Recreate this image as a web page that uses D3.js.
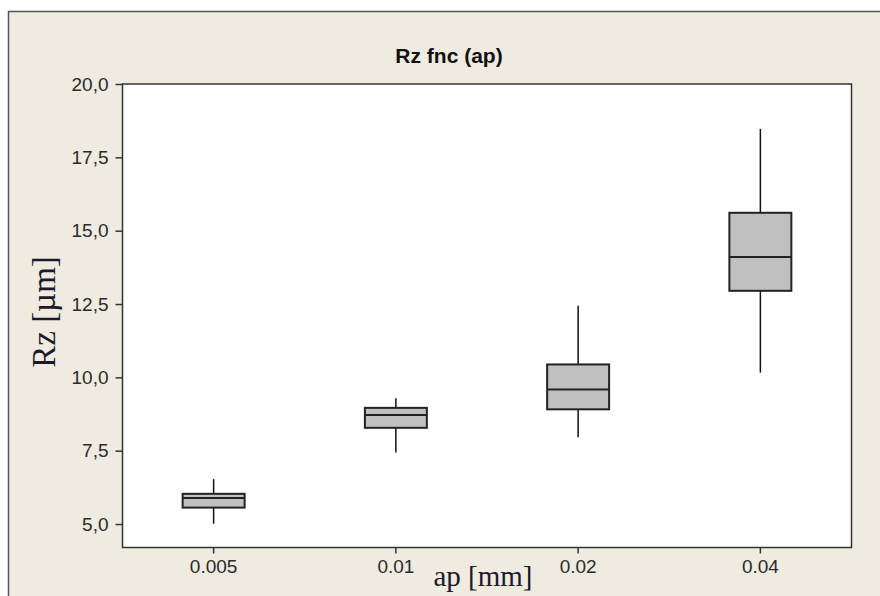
<!DOCTYPE html>
<html>
<head>
<meta charset="utf-8">
<script src="https://cdn.jsdelivr.net/npm/d3@7"></script>
<style>
  body { margin: 0; background: #fff; }
  .tick text { font-family: "Liberation Sans", Arial, sans-serif; fill: #2a2a2a; }
</style>
</head>
<body>
<script>
// box plot values (Rz in µm)
var categories = ["0.005", "0.01", "0.02", "0.04"];
var whiskerLow = [5.01, 7.44, 7.96, 10.16];
var q1 = [5.56, 8.28, 8.91, 12.95];
var median = [5.89, 8.72, 9.59, 14.10];
var q3 = [6.03, 8.96, 10.44, 15.61];
var whiskerHigh = [6.53, 9.29, 12.44, 18.47];
var yTicks = [5, 7.5, 10, 12.5, 15, 17.5, 20];

var w = 880, h = 596;
var plot = { left: 122.5, right: 851.5, top: 84, bottom: 547.5 };

var svg = d3.select("body").append("svg")
  .attr("width", w)
  .attr("height", h);

// beige window frame
svg.append("rect")
  .attr("x", 8.5).attr("y", 11.5)
  .attr("width", w + 10).attr("height", h + 10)
  .attr("fill", "#efebe1")
  .attr("stroke", "#555")
  .attr("stroke-width", 1.5);

svg.append("rect")
  .attr("x", plot.left).attr("y", plot.top)
  .attr("width", plot.right - plot.left)
  .attr("height", plot.bottom - plot.top)
  .attr("fill", "#fff")
  .attr("stroke", "#333")
  .attr("stroke-width", 1.5);

var x = d3.scaleBand()
  .domain(categories)
  .range([plot.left, plot.right])
  .padding(0);

var y = d3.scaleLinear()
  .domain([4.2, 20])
  .range([plot.bottom, plot.top]);

var comma = d3.formatLocale({ decimal: ",", thousands: ".", grouping: [3], currency: ["", ""] });

var xAxis = d3.axisBottom(x).tickSize(6).tickPadding(6);
var yAxis = d3.axisLeft(y).tickValues(yTicks).tickSize(7).tickPadding(7).tickFormat(comma.format(".1f"));

var gx = svg.append("g")
  .attr("transform", "translate(0," + plot.bottom + ")")
  .call(xAxis);
gx.select(".domain").remove();
gx.selectAll(".tick line").attr("stroke", "#333").attr("stroke-width", 1.5);
gx.selectAll(".tick text").attr("font-size", 19);

var gy = svg.append("g")
  .attr("transform", "translate(" + plot.left + ",0)")
  .call(yAxis);
gy.select(".domain").remove();
gy.selectAll(".tick line").attr("stroke", "#333").attr("stroke-width", 1.5);
gy.selectAll(".tick text").attr("font-size", 19);

var boxes = categories.map(function (c, i) {
  return { cat: c, lo: whiskerLow[i], q1: q1[i], med: median[i], q3: q3[i], hi: whiskerHigh[i] };
});

var bw = x.bandwidth() * 0.34;

var g = svg.selectAll(".box")
  .data(boxes)
  .enter()
  .append("g")
  .attr("class", "box");

// whiskers
g.append("line")
  .attr("x1", function (d) { return x(d.cat) + x.bandwidth() / 2; })
  .attr("x2", function (d) { return x(d.cat) + x.bandwidth() / 2; })
  .attr("y1", function (d) { return y(d.hi); })
  .attr("y2", function (d) { return y(d.lo); })
  .attr("stroke", "#111")
  .attr("stroke-width", 1.5);

g.append("rect")
  .attr("x", function (d) { return x(d.cat) + x.bandwidth() / 2 - bw / 2; })
  .attr("y", function (d) { return y(d.q3); })
  .attr("width", bw)
  .attr("height", function (d) { return y(d.q1) - y(d.q3); })
  .attr("fill", "#c0c0c0")
  .attr("stroke", "#222")
  .attr("stroke-width", 2);

g.append("line")
  .attr("x1", function (d) { return x(d.cat) + x.bandwidth() / 2 - bw / 2; })
  .attr("x2", function (d) { return x(d.cat) + x.bandwidth() / 2 + bw / 2; })
  .attr("y1", function (d) { return y(d.med); })
  .attr("y2", function (d) { return y(d.med); })
  .attr("stroke", "#222")
  .attr("stroke-width", 2);

// titles
svg.append("text")
  .attr("x", 449)
  .attr("y", 63)
  .attr("text-anchor", "middle")
  .attr("font-family", "Liberation Sans, Arial, sans-serif")
  .attr("font-weight", "bold")
  .attr("font-size", 21)
  .attr("fill", "#111")
  .text("Rz fnc (ap)");

svg.append("text")
  .attr("x", 483)
  .attr("y", 586)
  .attr("text-anchor", "middle")
  .attr("font-family", "Liberation Serif, Times New Roman, serif")
  .attr("font-size", 29)
  .attr("fill", "#1a1a2a")
  .text("ap [mm]");

svg.append("text")
  .attr("transform", "translate(55,312) rotate(-90)")
  .attr("text-anchor", "middle")
  .attr("font-family", "Liberation Serif, Times New Roman, serif")
  .attr("font-size", 33)
  .attr("fill", "#1a1a2a")
  .text("Rz [µm]");
</script>
</body>
</html>
